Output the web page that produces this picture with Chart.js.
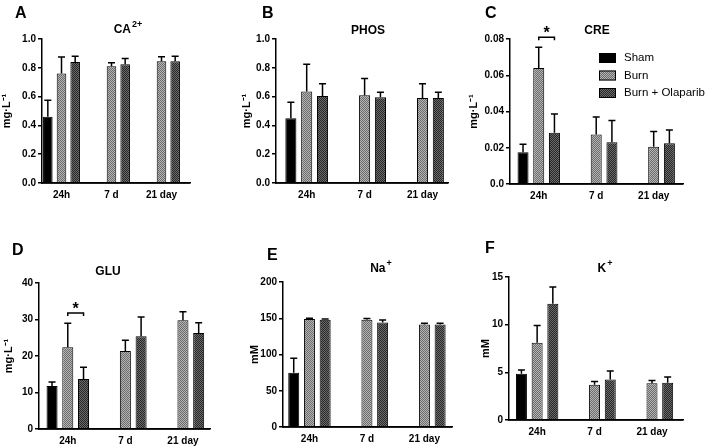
<!DOCTYPE html>
<html>
<head>
<meta charset="utf-8">
<script src="https://cdn.jsdelivr.net/npm/chart.js@4.4.1/dist/chart.umd.min.js"></script>
<style>
  body { margin: 0; background: #fff; }
  #wrap { position: relative; width: 709px; height: 446px; overflow: hidden; }
  #wrap canvas { position: absolute; }
</style>
</head>
<body>
<div id="wrap"></div>
<script>
const days = ['24h', '7 d', '21 day'];
const groups = ['Sham', 'Burn', 'Burn + Olaparib'];

// CA2+
const caSham = [0.46], caShamErr = [0.115];
const caBurn = [0.76, 0.81, 0.845], caBurnErr = [0.115, 0.025, 0.032];
const caOlap = [0.84, 0.825, 0.845], caOlapErr = [0.04, 0.04, 0.035];
// PHOS
const phosSham = [0.45], phosShamErr = [0.11];
const phosBurn = [0.635, 0.61, 0.59], phosBurnErr = [0.19, 0.115, 0.1];
const phosOlap = [0.605, 0.595, 0.59], phosOlapErr = [0.085, 0.035, 0.04];
// CRE
const creSham = [0.0175], creShamErr = [0.0045];
const creBurn = [0.064, 0.0273, 0.0205], creBurnErr = [0.0115, 0.0097, 0.0085];
const creOlap = [0.0283, 0.023, 0.0225], creOlapErr = [0.0103, 0.012, 0.0073];
// GLU
const gluSham = [11.8], gluShamErr = [1.1];
const gluBurn = [22.4, 21.4, 29.8], gluBurnErr = [6.6, 2.9, 2.3];
const gluOlap = [13.7, 25.4, 26.3], gluOlapErr = [3.2, 5.3, 2.8];
// Na+
const naSham = [75], naShamErr = [20];
const naBurn = [149, 148, 141.5], naBurnErr = [1, 1.5, 1.5];
const naOlap = [148, 144, 141.5], naOlapErr = [1, 3.5, 1.5];
// K+
const kSham = [4.85], kShamErr = [0.4];
const kBurn = [8.1, 3.7, 3.85], kBurnErr = [1.8, 0.35, 0.3];
const kOlap = [12.2, 4.25, 3.9], kOlapErr = [1.75, 0.9, 0.6];

const panels = [
  { letter: 'A', name: 'CA', sup: '2+', unit: 'mg·L⁻¹', max: 1, step: 0.2, dec: 1,
    vals: [caSham, caBurn, caOlap], errs: [caShamErr, caBurnErr, caOlapErr] },
  { letter: 'B', name: 'PHOS', sup: '', unit: 'mg·L⁻¹', max: 1, step: 0.2, dec: 1,
    vals: [phosSham, phosBurn, phosOlap], errs: [phosShamErr, phosBurnErr, phosOlapErr] },
  { letter: 'C', name: 'CRE', sup: '', unit: 'mg·L⁻¹', max: 0.08, step: 0.02, dec: 2,
    vals: [creSham, creBurn, creOlap], errs: [creShamErr, creBurnErr, creOlapErr] },
  { letter: 'D', name: 'GLU', sup: '', unit: 'mg·L⁻¹', max: 40, step: 10, dec: 0,
    vals: [gluSham, gluBurn, gluOlap], errs: [gluShamErr, gluBurnErr, gluOlapErr] },
  { letter: 'E', name: 'Na', sup: '+', unit: 'mM', max: 200, step: 50, dec: 0,
    vals: [naSham, naBurn, naOlap], errs: [naShamErr, naBurnErr, naOlapErr] },
  { letter: 'F', name: 'K', sup: '+', unit: 'mM', max: 15, step: 5, dec: 0,
    vals: [kSham, kBurn, kOlap], errs: [kShamErr, kBurnErr, kOlapErr] }
];

// page geometry: canvas box [l,t,w,h], plot [left,top,right,bottom], x range, text anchors
const geo = [
  { box: [0, 0, 235, 215], plot: [42, 39, 190, 183], xr: [-0.39, 2.57], letter: [15, 18], title: [128, 33] },
  { box: [240, 0, 230, 215], plot: [276, 39, 448, 183], xr: [-0.53, 2.44], letter: [262, 18], title: [368, 34] },
  { box: [467, 0, 242, 215], plot: [510, 39, 683, 184], xr: [-0.5, 2.51], letter: [485, 18], title: [597, 34], sig: 0.081, legend: [599, 58] },
  { box: [2, 220, 233, 226], plot: [39, 283, 210, 429], xr: [-0.5, 2.47], letter: [12, 255], title: [108, 275], sig: 31.8 },
  { box: [248, 220, 222, 226], plot: [283, 282, 452, 427], xr: [-0.46, 2.48], letter: [267, 260], title: [381, 272] },
  { box: [479, 220, 230, 226], plot: [509, 277, 683, 420], xr: [-0.49, 2.54], letter: [485, 253], title: [605, 272] }
];

const narrow = "'Liberation Sans Narrow', 'Liberation Sans', Arial, sans-serif";
const sans = "'Liberation Sans', Arial, sans-serif";
Chart.defaults.color = '#000';

function checker(a, b) {
  const c = document.createElement('canvas');
  c.width = 2; c.height = 2;
  const g = c.getContext('2d');
  g.fillStyle = a; g.fillRect(0, 0, 2, 2);
  g.fillStyle = b; g.fillRect(0, 0, 1, 1); g.fillRect(1, 1, 1, 1);
  return g.createPattern(c, 'repeat');
}
const fills = ['#000', checker('#b4b4b4', '#6c6c6c'), checker('#6a6a6a', '#282828')];

function extras(p, g) {
  const ox = g.box[0], oy = g.box[1];
  return {
    id: 'extras',
    afterDatasetsDraw(chart) {
      const ctx = chart.ctx, ys = chart.scales.y;
      ctx.save();
      ctx.strokeStyle = '#000';
      ctx.lineWidth = 1.5;
      // error bars (upper half only)
      chart.data.datasets.forEach((ds, di) => {
        const meta = chart.getDatasetMeta(di);
        meta.data.forEach((bar, i) => {
          const top = ys.getPixelForValue(ds.data[i].y + p.errs[di][i]);
          ctx.beginPath();
          ctx.moveTo(bar.x, bar.y);
          ctx.lineTo(bar.x, top);
          ctx.moveTo(bar.x - 3.5, top);
          ctx.lineTo(bar.x + 3.5, top);
          ctx.stroke();
        });
      });
      // significance bracket
      if (g.sig !== undefined) {
        const x1 = chart.getDatasetMeta(1).data[0].x;
        const x2 = chart.getDatasetMeta(2).data[0].x;
        const y = ys.getPixelForValue(g.sig);
        ctx.beginPath();
        ctx.moveTo(x1, y + 3); ctx.lineTo(x1, y); ctx.lineTo(x2, y); ctx.lineTo(x2, y + 3);
        ctx.stroke();
        ctx.fillStyle = '#000';
        ctx.font = 'bold 16px ' + sans;
        ctx.textAlign = 'center';
        ctx.textBaseline = 'alphabetic';
        ctx.fillText('*', (x1 + x2) / 2, y + 1);
      }
      ctx.restore();
    },
    afterDraw(chart) {
      const ctx = chart.ctx, area = chart.chartArea;
      ctx.save();
      // x axis baseline
      ctx.strokeStyle = '#000';
      ctx.lineWidth = 1.5;
      ctx.beginPath();
      ctx.moveTo(area.left - 1, area.bottom);
      ctx.lineTo(area.right, area.bottom);
      ctx.stroke();

      ctx.fillStyle = '#000';
      ctx.textBaseline = 'alphabetic';
      ctx.textAlign = 'left';
      ctx.font = 'bold 16px ' + sans;
      ctx.fillText(p.letter, g.letter[0] - ox, g.letter[1] - oy);
      // panel title with superscript
      ctx.font = 'bold 12px ' + sans;
      const w1 = ctx.measureText(p.name).width;
      ctx.font = 'bold 9px ' + sans;
      const w2 = p.sup ? ctx.measureText(p.sup).width + 1 : 0;
      const x0 = g.title[0] - ox - (w1 + w2) / 2, y0 = g.title[1] - oy;
      ctx.font = 'bold 12px ' + sans;
      ctx.fillText(p.name, x0, y0);
      if (p.sup) {
        ctx.font = 'bold 9px ' + sans;
        ctx.fillText(p.sup, x0 + w1 + 1, y0 - 6);
      }
      // legend
      if (g.legend) {
        ctx.font = '11.5px ' + sans;
        ctx.textBaseline = 'middle';
        groups.forEach((name, i) => {
          const lx = g.legend[0] - ox, ly = g.legend[1] - oy + i * 17.5;
          ctx.fillStyle = fills[i];
          ctx.fillRect(lx, ly - 5, 17, 10);
          ctx.strokeStyle = '#000';
          ctx.lineWidth = 1;
          ctx.strokeRect(lx + 0.5, ly - 4.5, 16, 9);
          ctx.fillStyle = '#000';
          ctx.fillText(name, lx + 25, ly);
        });
      }
      ctx.restore();
    }
  };
}

const wrap = document.getElementById('wrap');
panels.forEach((p, k) => {
  const g = geo[k];
  const [bl, bt, bw, bh] = g.box;
  const [pl, pt, pr, pb] = g.plot;
  const cv = document.createElement('canvas');
  cv.width = bw; cv.height = bh;
  cv.style.left = bl + 'px'; cv.style.top = bt + 'px';
  cv.style.width = bw + 'px'; cv.style.height = bh + 'px';
  wrap.appendChild(cv);

  const datasets = p.vals.map((vals, i) => ({
    label: groups[i],
    data: vals.map((v, j) => ({ x: j, y: v })),
    backgroundColor: fills[i],
    borderColor: '#000',
    borderWidth: 1,
    categoryPercentage: 0.82,
    barPercentage: 0.7
  }));

  new Chart(cv.getContext('2d'), {
    type: 'bar',
    data: { datasets: datasets },
    options: {
      responsive: false,
      animation: false,
      layout: { padding: { left: 0, top: pt - bt, right: bl + bw - pr, bottom: 0 } },
      plugins: { legend: { display: false }, tooltip: { enabled: false } },
      scales: {
        x: {
          type: 'linear',
          offset: false,
          min: g.xr[0], max: g.xr[1],
          afterBuildTicks: s => { s.ticks = days.map((d, i) => ({ value: i })); },
          afterFit: s => { s.height = bt + bh - pb; },
          grid: { display: true, drawOnChartArea: false, drawTicks: false, offset: false },
          border: { display: true, color: '#000', width: 1.5 },
          ticks: {
            autoSkip: false, maxRotation: 0, padding: 6,
            font: { family: narrow, size: 10, weight: 'bold' },
            callback: v => days[v]
          }
        },
        y: {
          min: 0, max: p.max,
          afterFit: s => { s.width = pl - bl; },
          grid: { display: true, drawOnChartArea: false, drawTicks: true, tickLength: 4, color: '#000', lineWidth: 1.5 },
          border: { display: true, color: '#000', width: 1.5 },
          ticks: {
            stepSize: p.step, padding: 2,
            font: { family: narrow, size: 10, weight: 'bold' },
            callback: v => (v === 0 && p.dec > 0) ? '0.0' : v.toFixed(p.dec)
          },
          title: {
            display: true, text: p.unit, padding: 0,
            font: { family: sans, size: 11, weight: 'bold' }
          }
        }
      }
    },
    plugins: [extras(p, g)]
  });
});
</script>
</body>
</html>
